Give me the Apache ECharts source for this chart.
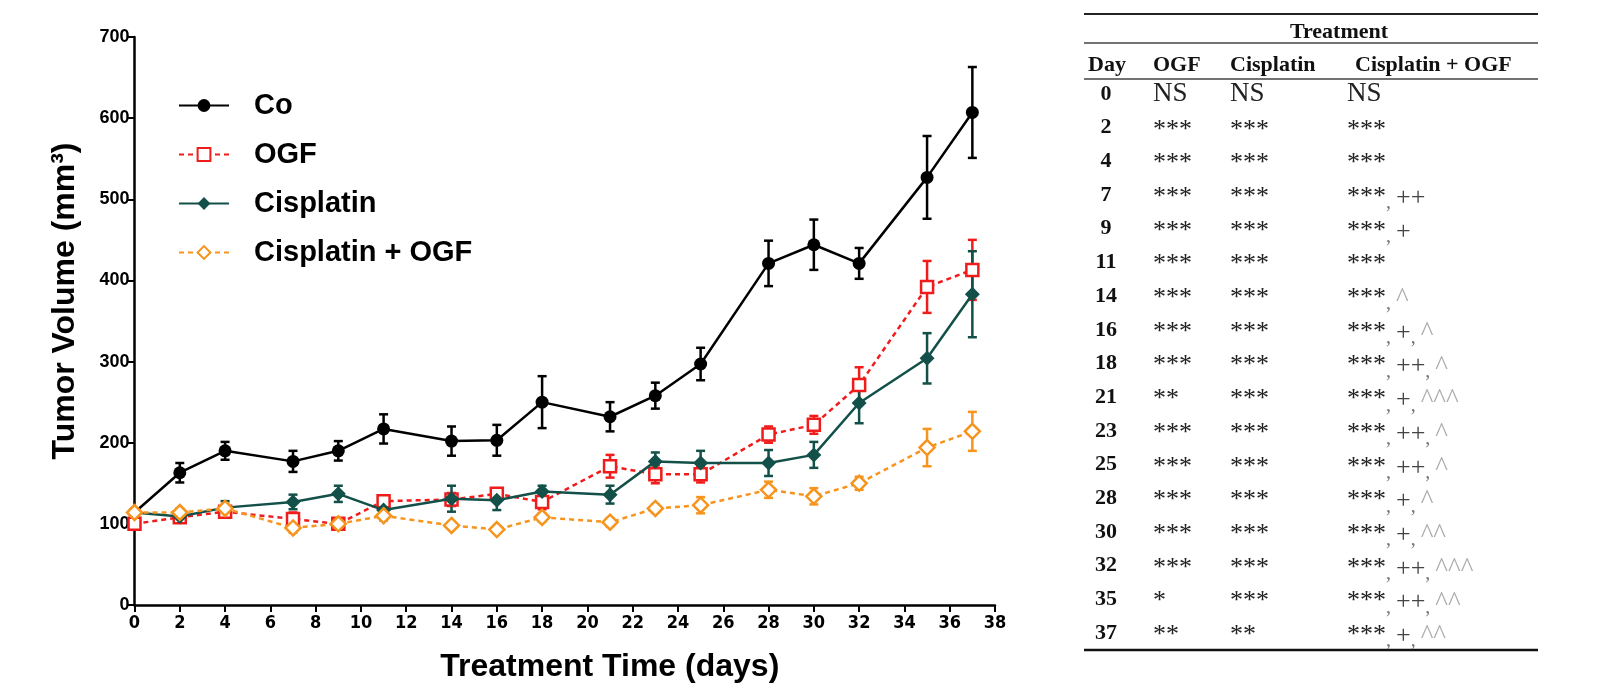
<!DOCTYPE html>
<html>
<head>
<meta charset="utf-8">
<script src="https://cdn.jsdelivr.net/npm/echarts@6/dist/echarts.min.js"></script>
<style>
  html, body { margin: 0; padding: 0; background: #fff; }
  #main { width: 1597px; height: 700px; }
</style>
</head>
<body>
<div id="main"></div>
<script>
// measurement days
var days = [0, 2, 4, 7, 9, 11, 14, 16, 18, 21, 23, 25, 28, 30, 32, 35, 37];

// tumor volume (mm3), mean and SEM
var coVol      = [114, 163, 190, 177, 190, 217, 202, 203, 250, 232, 258, 297, 421, 444, 421, 527, 607];
var coErr      = [0, 12, 11, 13, 12, 18, 18, 19, 32, 18, 16, 20, 28, 31, 19, 51, 56];
var ogfVol     = [100, 108, 115, 106, 100, 128, 130, 137, 127, 171, 161, 161, 210, 222, 271, 392, 413];
var ogfErr     = [0, 4, 5, 8, 4, 6, 8, 6, 9, 14, 11, 10, 10, 11, 22, 32, 37];
var cisVol     = [114, 109, 120, 127, 137, 117, 131, 129, 140, 136, 177, 175, 175, 185, 249, 304, 383];
var cisErr     = [0, 4, 8, 9, 10, 4, 16, 12, 7, 11, 11, 15, 16, 16, 25, 31, 53];
var comboVol   = [114, 114, 119, 95, 100, 110, 98, 93, 108, 102, 119, 123, 142, 134, 150, 194, 214];
var comboErr   = [0, 5, 6, 6, 5, 6, 4, 4, 5, 5, 5, 10, 10, 10, 8, 23, 24];

// significance table
var tableDays  = [0, 2, 4, 7, 9, 11, 14, 16, 18, 21, 23, 25, 28, 30, 32, 35, 37];
var ogfSig     = ['NS', '***', '***', '***', '***', '***', '***', '***', '***', '**', '***', '***', '***', '***', '***', '*', '**'];
var cisSig     = ['NS', '***', '***', '***', '***', '***', '***', '***', '***', '***', '***', '***', '***', '***', '***', '***', '**'];
var comboSig   = ['NS', '***', '***', '***', '***', '***', '***', '***', '***', '***', '***', '***', '***', '***', '***', '***', '***'];
var comboPlus  = ['', '', '', '++', '+', '', '', '+', '++', '+', '++', '++', '+', '+', '++', '++', '+'];
var comboHat   = ['', '', '', '', '', '', '^', '^', '^', '^^^', '^', '^', '^', '^^', '^^^', '^^', '^^'];
var tableHead  = ['Day', 'OGF', 'Cisplatin', 'Cisplatin + OGF'];

var SANS = '"Liberation Sans", Arial, sans-serif';
var SERIF = '"Liberation Serif", "Times New Roman", serif';

var RED = '#f01c1c', TEAL = '#135049', ORANGE = '#f7941d';

function pairs(vals) {
  return days.map(function (d, i) { return [d, vals[i]]; });
}

function errSeries(name, color, vals, errs) {
  return {
    type: 'custom',
    name: name,
    z: 1,
    silent: true,
    data: days.map(function (d, i) { return [d, vals[i] - errs[i], vals[i] + errs[i]]; }),
    encode: { x: 0, y: [1, 2] },
    renderItem: function (params, api) {
      var lo = api.coord([api.value(0), api.value(1)]);
      var hi = api.coord([api.value(0), api.value(2)]);
      var w = 4.5;
      var st = { stroke: color, lineWidth: 2.5 };
      return {
        type: 'group',
        children: [
          { type: 'line', shape: { x1: lo[0], y1: lo[1], x2: hi[0], y2: hi[1] }, style: st },
          { type: 'line', shape: { x1: hi[0] - w, y1: hi[1], x2: hi[0] + w, y2: hi[1] }, style: st },
          { type: 'line', shape: { x1: lo[0] - w, y1: lo[1], x2: lo[0] + w, y2: lo[1] }, style: st }
        ]
      };
    }
  };
}

// ---- table built with graphic elements ----
var rowY = function (i) { return 94 + i * 33.7; };
var rich = {
  ns:  { fontFamily: SERIF, fontSize: 27, fill: '#222', verticalAlign: 'middle' },
  a:   { fontFamily: SERIF, fontSize: 26, fill: '#222', verticalAlign: 'middle', padding: [4, 0, 0, 0] },
  c:   { fontFamily: SERIF, fontSize: 20, fill: '#777', verticalAlign: 'middle', padding: [16, 0, 0, 0] },
  p:   { fontFamily: SERIF, fontSize: 26, fill: '#444', verticalAlign: 'middle', padding: [6, 0, 0, 0] },
  h:   { fontFamily: SERIF, fontSize: 27, fill: '#aaaaaa', verticalAlign: 'middle', padding: [6, 0, 0, 0] }
};
function sigText(s) {
  return s === 'NS' ? '{ns|NS}' : '{a|' + s + '}';
}
var graphics = [
  { type: 'line', shape: { x1: 1084, y1: 14, x2: 1538, y2: 14 }, style: { stroke: '#222', lineWidth: 2 } },
  { type: 'line', shape: { x1: 1084, y1: 43, x2: 1538, y2: 43 }, style: { stroke: '#444', lineWidth: 1.5 } },
  { type: 'line', shape: { x1: 1084, y1: 79, x2: 1538, y2: 79 }, style: { stroke: '#444', lineWidth: 1.5 } },
  { type: 'line', shape: { x1: 1084, y1: 650, x2: 1538, y2: 650 }, style: { stroke: '#111', lineWidth: 2.5 } },
  { type: 'text', x: 1339, y: 32, style: { text: 'Treatment', font: 'bold 22px ' + SERIF, fill: '#111', align: 'center', verticalAlign: 'middle' } }
];
var headX = [1088, 1153, 1230, 1355];
tableHead.forEach(function (h, j) {
  graphics.push({ type: 'text', x: headX[j], y: 65, style: { text: h, font: 'bold 22px ' + SERIF, fill: '#111', align: 'left', verticalAlign: 'middle' } });
});
tableDays.forEach(function (d, i) {
  var y = rowY(i);
  graphics.push({ type: 'text', x: 1106, y: y, style: { text: String(d), font: 'bold 22px ' + SERIF, fill: '#111', align: 'center', verticalAlign: 'middle' } });
  graphics.push({ type: 'text', x: 1153, y: y, style: { text: sigText(ogfSig[i]), rich: rich, align: 'left', verticalAlign: 'middle' } });
  graphics.push({ type: 'text', x: 1230, y: y, style: { text: sigText(cisSig[i]), rich: rich, align: 'left', verticalAlign: 'middle' } });
  var t = sigText(comboSig[i]);
  if (comboPlus[i]) t += '{c|, }{p|' + comboPlus[i] + '}';
  if (comboHat[i]) t += '{c|, }{h|' + comboHat[i] + '}';
  graphics.push({ type: 'text', x: 1347, y: y, style: { text: t, rich: rich, align: 'left', verticalAlign: 'middle' } });
});

var chart = echarts.init(document.getElementById('main'), null, { renderer: 'canvas' });
chart.setOption({
  backgroundColor: '#fff',
  animation: false,
  grid: { left: 134.5, right: 602, top: 37, bottom: 95, containLabel: false },
  legend: {
    data: ['Co', 'OGF', 'Cisplatin', 'Cisplatin + OGF'],
    orient: 'vertical',
    left: 173,
    top: 86,
    itemWidth: 50,
    itemHeight: 16,
    itemGap: 20,
    textStyle: { fontFamily: SANS, fontSize: 29, fontWeight: 'bold', color: '#000', padding: [0, 0, 0, 20] }
  },
  xAxis: {
    type: 'value',
    min: 0,
    max: 38,
    interval: 2,
    name: 'Treatment Time (days)',
    nameLocation: 'middle',
    nameGap: 46,
    nameTextStyle: { fontFamily: SANS, fontSize: 32, fontWeight: 'bold', color: '#000', padding: [0, 0, 0, 90] },
    axisLine: { onZero: false, lineStyle: { color: '#000', width: 2.5 } },
    axisTick: { length: 7, lineStyle: { color: '#000', width: 2 } },
    axisLabel: { fontFamily: '"Liberation Sans Narrow", "DejaVu Sans Condensed", sans-serif', fontSize: 18, fontWeight: 'bold', color: '#000', margin: 9 },
    splitLine: { show: false }
  },
  yAxis: {
    type: 'value',
    min: 0,
    max: 700,
    interval: 100,
    name: 'Tumor Volume (mm³)',
    nameLocation: 'middle',
    nameGap: 53,
    nameTextStyle: { fontFamily: SANS, fontSize: 32, fontWeight: 'bold', color: '#000', padding: [0, 0, 0, 40] },
    axisLine: { show: true, lineStyle: { color: '#000', width: 2.5 } },
    axisTick: { show: true, length: 7, lineStyle: { color: '#000', width: 2 } },
    axisLabel: { fontFamily: SANS, fontSize: 18, fontWeight: 'bold', color: '#000', margin: 5 },
    splitLine: { show: false }
  },
  graphic: graphics,
  series: [
    errSeries('Co err', '#000', coVol, coErr),
    errSeries('OGF err', RED, ogfVol, ogfErr),
    errSeries('Cis err', TEAL, cisVol, cisErr),
    errSeries('Combo err', ORANGE, comboVol, comboErr),
    {
      name: 'Co', type: 'line', z: 3, data: pairs(coVol),
      symbol: 'circle', symbolSize: 13,
      lineStyle: { color: '#000', width: 2.5 },
      itemStyle: { color: '#000' }
    },
    {
      name: 'OGF', type: 'line', z: 4, data: pairs(ogfVol),
      symbol: 'rect', symbolSize: 12,
      lineStyle: { color: RED, width: 2.5, type: [5, 4] },
      itemStyle: { color: '#fff', borderColor: RED, borderWidth: 2.5 }
    },
    {
      name: 'Cisplatin', type: 'line', z: 5, data: pairs(cisVol),
      symbol: 'diamond', symbolSize: 15,
      lineStyle: { color: TEAL, width: 2.5 },
      itemStyle: { color: TEAL }
    },
    {
      name: 'Cisplatin + OGF', type: 'line', z: 6, data: pairs(comboVol),
      symbol: 'diamond', symbolSize: 15,
      lineStyle: { color: ORANGE, width: 2.5, type: [5, 4] },
      itemStyle: { color: '#fff', borderColor: ORANGE, borderWidth: 2.5 }
    }
  ]
});
</script>
</body>
</html>
